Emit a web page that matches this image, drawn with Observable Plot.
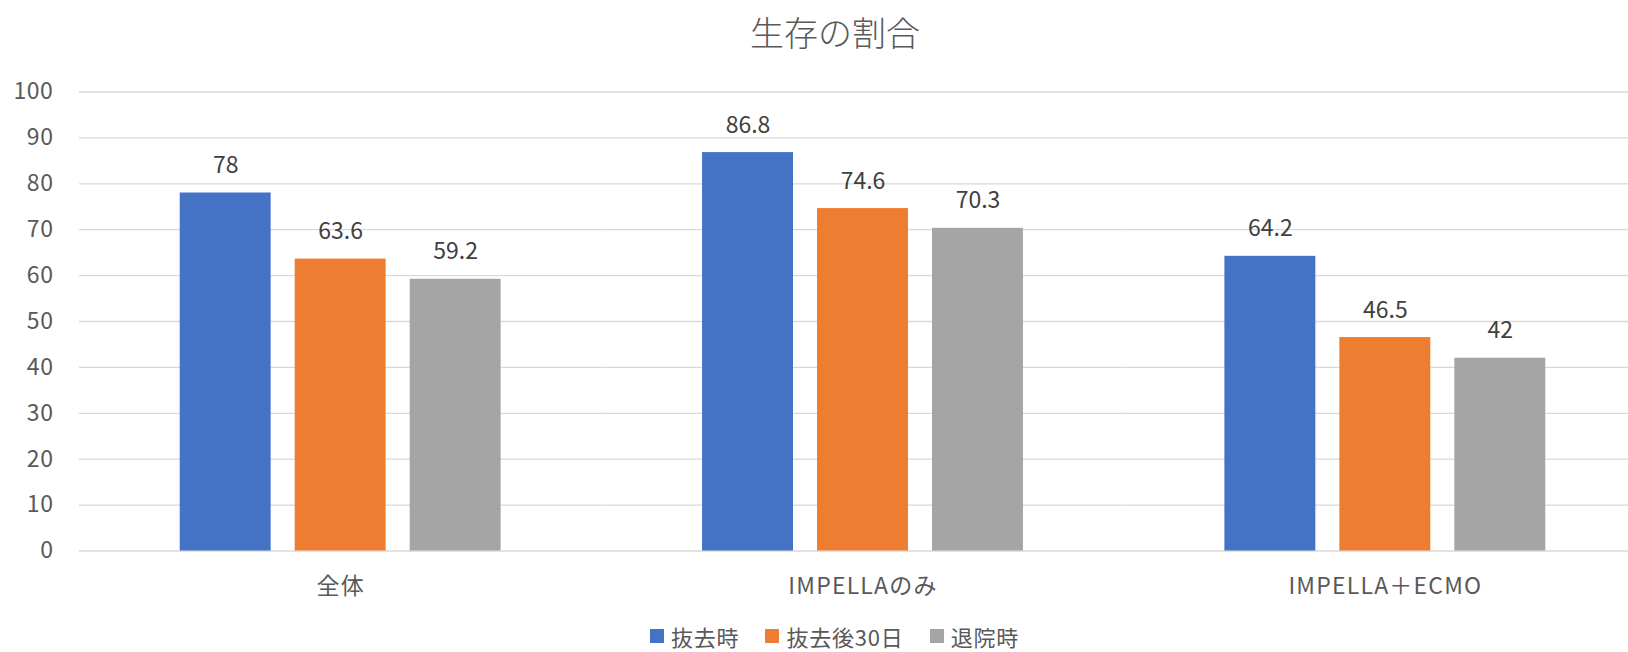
<!DOCTYPE html>
<html><head><meta charset="utf-8">
<script src="https://cdn.jsdelivr.net/npm/d3@7"></script>
<script src="https://cdn.jsdelivr.net/npm/@observablehq/plot@0.6"></script>
<style>
body{margin:0;background:#fff;font-family:"Noto Sans CJK JP",sans-serif;}
#wrap{position:relative;width:1628px;height:652px;overflow:hidden;background:#fff;}
#title{position:absolute;top:12px;left:835px;transform:translateX(-50%);font-size:34px;font-weight:300;color:#595959;white-space:nowrap;line-height:40px;}
#chart{position:absolute;top:70px;left:0;}
#legend{position:absolute;top:625px;left:650px;display:flex;font-size:22px;color:#595959;line-height:22px;white-space:nowrap;letter-spacing:0.8px;}
.item{display:flex;align-items:center;margin-right:26px;}
.sw{width:14px;height:14px;margin-right:7px;}
g[aria-label="fx-axis tick label"]{letter-spacing:1.2px;}
g[aria-label="y-axis tick label"]{letter-spacing:0.6px;}
</style></head>
<body>
<div id="wrap">
  <div id="title">生存の割合</div>
  <div id="chart"></div>
  <div id="legend"></div>
</div>
<script>
const groups = ["全体", "IMPELLAのみ", "IMPELLA＋ECMO"];
const series = ["抜去時", "抜去後30日", "退院時"];
const valuesAtRemoval = [78, 86.8, 64.2];
const values30Days = [63.6, 74.6, 46.5];
const valuesDischarge = [59.2, 70.3, 42];
const colors = ["#4472C4", "#ED7D31", "#A5A5A5"];
const yTicks = [0, 10, 20, 30, 40, 50, 60, 70, 80, 90, 100];

const seriesValues = [valuesAtRemoval, values30Days, valuesDischarge];
const data = [];
groups.forEach((g, gi) => series.forEach((s, si) => data.push({group: g, series: s, value: seriesValues[si][gi]})));

const chart = Plot.plot({
  width: 1628, height: 540,
  marginTop: 21.5, marginBottom: 59.5, marginLeft: 79, marginRight: 0,
  style: {fontFamily: '"Noto Sans CJK JP", sans-serif', background: "transparent", overflow: "hidden"},
  fx: {domain: groups, range: [79, 1646], padding: 0, round: false, label: null},
  x: {domain: series, paddingInner: 0.209, paddingOuter: 0.876, round: false, axis: null},
  y: {domain: [0, 100], axis: null},
  color: {domain: series, range: colors},
  marks: [
    Plot.ruleY(yTicks, {stroke: "#d9d9d9", strokeWidth: 1.3}),
    Plot.barY(data, {fx: "group", x: "series", y: "value", fill: "series"}),
    Plot.text(data, {fx: "group", x: "series", y: "value", text: d => String(d.value), lineAnchor: "bottom", dy: -20, fill: "#404040", fontSize: 23}),
    Plot.axisY({ticks: yTicks, tickSize: 0, tickPadding: 26, fontSize: 23, fill: "#595959", label: null}),
    Plot.axisFx({anchor: "bottom", tickSize: 0, tickPadding: 27, fontSize: 23, fill: "#595959", label: null})
  ]
});
document.getElementById("chart").appendChild(chart);

const legend = document.getElementById("legend");
series.forEach((s, i) => {
  const item = document.createElement("div");
  item.className = "item";
  const sw = document.createElement("div");
  sw.className = "sw";
  sw.style.background = colors[i];
  const t = document.createElement("span");
  t.textContent = s;
  item.appendChild(sw); item.appendChild(t);
  legend.appendChild(item);
});
</script>
</body></html>
